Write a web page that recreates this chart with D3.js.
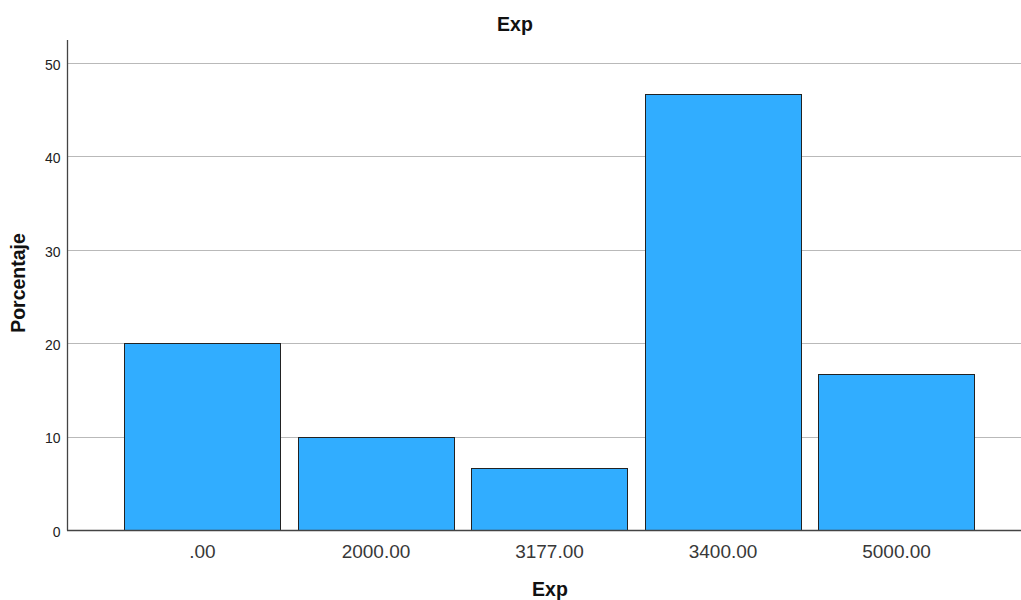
<!DOCTYPE html>
<html><head><meta charset="utf-8">
<script src="https://cdn.jsdelivr.net/npm/d3@7"></script>
<style>body{margin:0;background:#fff}svg{display:block}</style>
</head><body>
<svg id="c" width="1021" height="600"></svg>
<script>
const categories = [".00", "2000.00", "3177.00", "3400.00", "5000.00"];
const percentages = [20, 10, 6.67, 46.67, 16.67];
const yTicks = [0, 10, 20, 30, 40, 50];
const chartTitle = "Exp";
const xTitle = "Exp";
const yTitle = "Porcentaje";

(function(){
const svg = d3.select("#c");
const FONT = "Arial, 'Liberation Sans', sans-serif";
const mLeft = 67, mRight = 1021, mTop = 40, mBottom = 530;

const x = d3.scaleBand().domain(categories).range([107, 992]).paddingInner(0.1).paddingOuter(0.1);
const y = d3.scaleLinear().domain([0, 50]).range([mBottom, 63]);

// gridlines
svg.append("g").selectAll("line").data(yTicks.filter(d => d > 0)).join("line")
  .attr("x1", mLeft).attr("x2", mRight)
  .attr("y1", d => Math.round(y(d)) + 0.5).attr("y2", d => Math.round(y(d)) + 0.5)
  .attr("stroke", "#b9b9b9").attr("stroke-width", 1);

// bars
svg.append("g").selectAll("rect").data(categories).join("rect")
  .attr("x", d => Math.round(x(d)) + 0.5)
  .attr("y", (d, i) => Math.round(y(percentages[i])) + 0.5)
  .attr("width", Math.round(x.bandwidth()))
  .attr("height", (d, i) => Math.round(y(0)) - Math.round(y(percentages[i])))
  .attr("fill", "#31adff").attr("stroke", "#222").attr("stroke-width", 1);

// y axis
const ya = d3.axisLeft(y).tickValues(yTicks).tickSize(0).tickPadding(7).tickFormat(d3.format("d"));
const yg = svg.append("g").attr("transform", `translate(${mLeft + 0.5},0)`).call(ya);
yg.select(".domain").remove();
yg.selectAll("text").attr("font-family", FONT).attr("font-size", 14).attr("fill", "#222").attr("dy", "0.45em");
svg.append("line").attr("x1", mLeft + 0.5).attr("x2", mLeft + 0.5).attr("y1", mTop).attr("y2", mBottom + 0.5)
  .attr("stroke", "#444").attr("stroke-width", 1.3);

// x axis
const xa = d3.axisBottom(x).tickSize(0).tickPadding(12);
const xg = svg.append("g").attr("transform", `translate(0,${mBottom + 0.5})`).call(xa);
xg.select(".domain").remove();
xg.selectAll("text").attr("font-family", FONT).attr("font-size", 19).attr("fill", "#383838")
  .attr("y", 27).attr("dy", 0);
svg.append("line").attr("x1", mLeft).attr("x2", mRight).attr("y1", mBottom + 0.5).attr("y2", mBottom + 0.5)
  .attr("stroke", "#444").attr("stroke-width", 1.3);

// titles
svg.append("text").attr("x", 515).attr("y", 31).attr("text-anchor", "middle")
  .attr("font-family", FONT).attr("font-size", 19.5).attr("font-weight", "bold").attr("fill", "#111").text(chartTitle);
svg.append("text").attr("x", 550).attr("y", 596).attr("text-anchor", "middle")
  .attr("font-family", FONT).attr("font-size", 19.5).attr("font-weight", "bold").attr("fill", "#111").text(xTitle);
svg.append("text").attr("transform", "translate(25,283) rotate(-90)").attr("text-anchor", "middle")
  .attr("font-family", FONT).attr("font-size", 19.5).attr("font-weight", "bold").attr("fill", "#111").text(yTitle);
})();
</script>
</body></html>
